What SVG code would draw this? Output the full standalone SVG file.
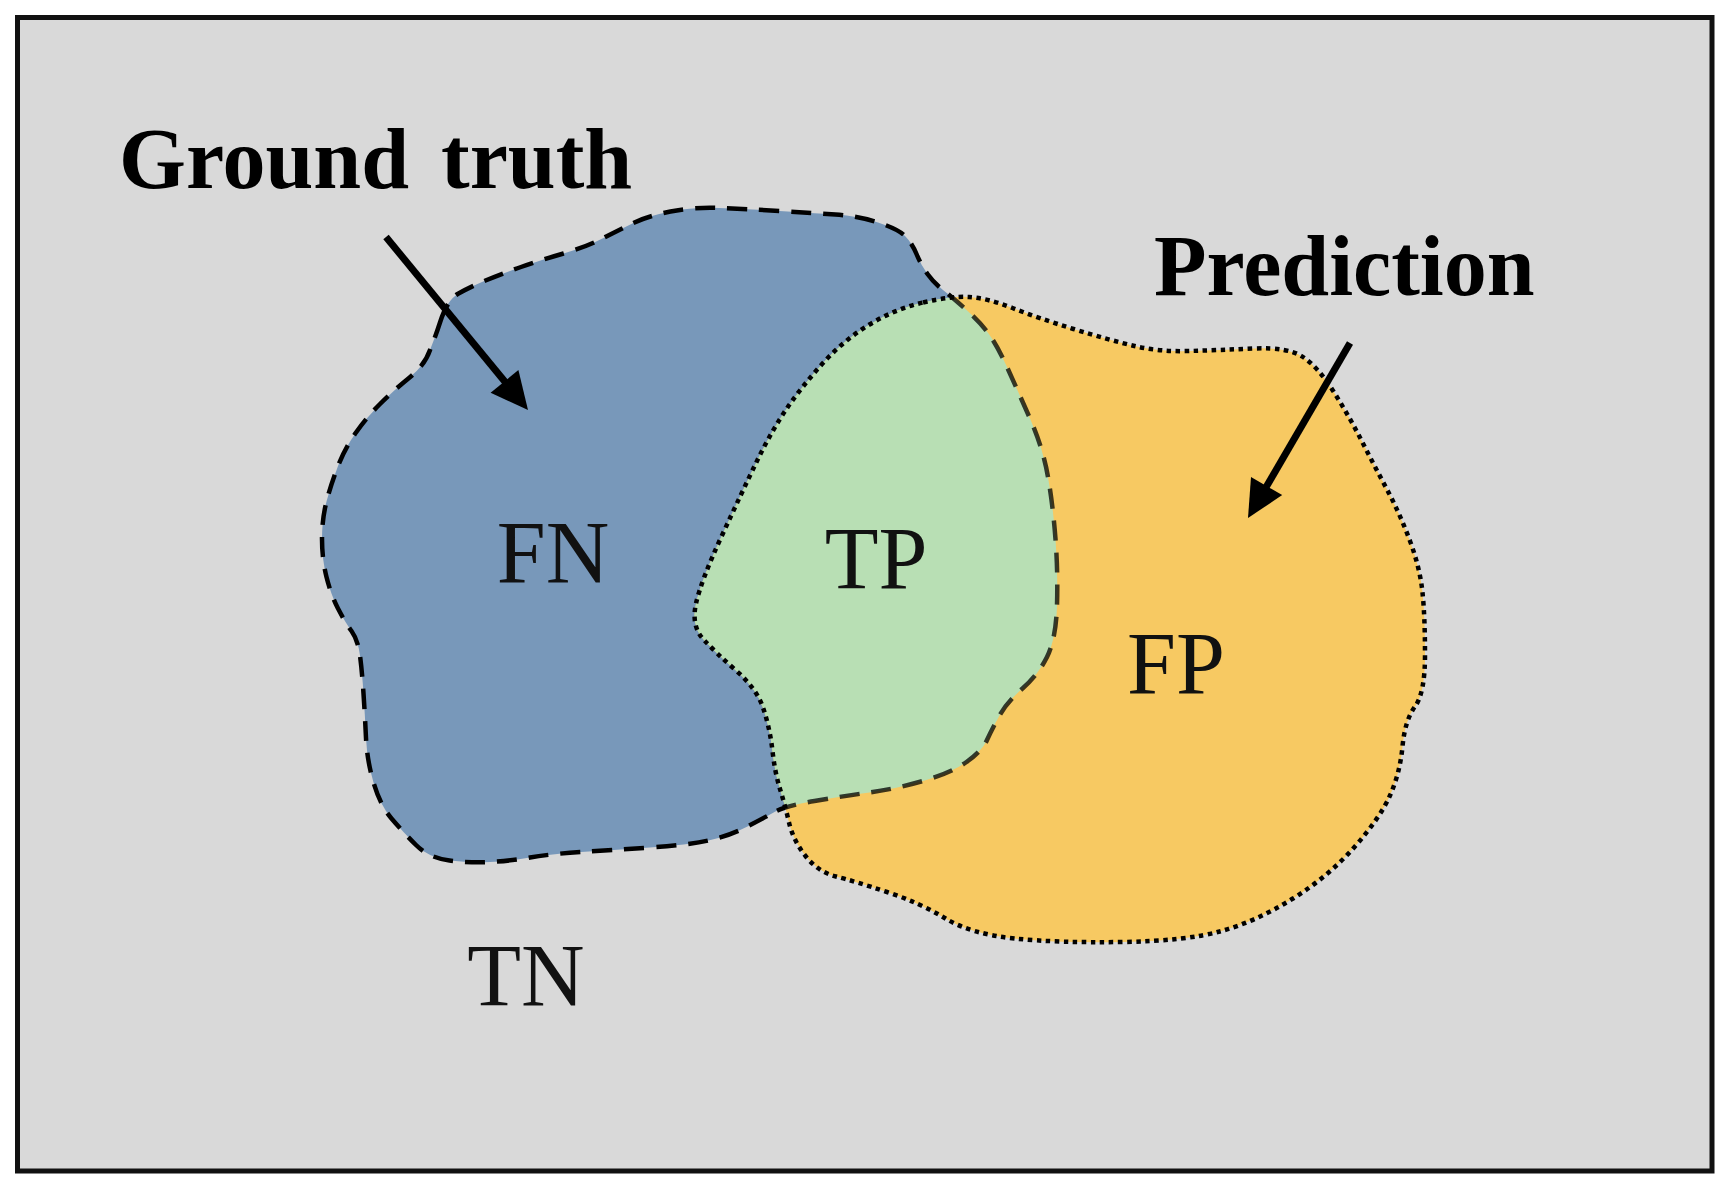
<svg xmlns="http://www.w3.org/2000/svg" width="1735" height="1197" viewBox="0 0 1735 1197">
<style>
.lbl{font-family:"Liberation Serif","Times New Roman",serif;font-size:88px;fill:#111;text-anchor:middle}
.ttl{font-family:"Liberation Serif","Times New Roman",serif;font-size:86px;font-weight:bold;fill:#000}
.gtStroke{fill:none;stroke:#000;stroke-width:4.5;stroke-dasharray:20 12}
.predStroke{fill:none;stroke:#000;stroke-width:4.5;stroke-dasharray:4.5 4.5}
.arrowLine{stroke:#000;stroke-width:7;fill:none}
</style>
<defs>
<path id="gtPath" d="M440,322.5 Q447,300 458.5,293.5 Q470,287 485.5,280.5 Q501,274 521,267 Q541,260 563.5,253.5 Q586,247 603.5,238 Q621,229 634.5,222.5 Q648,216 670.5,211.5 Q693,207 719.5,208 Q746,209 779.5,211 Q813,213 835.5,214.5 Q858,216 878,222.5 Q898,229 905,236 Q912,243 916.5,254 Q921,265 927.5,274 Q934,283 943,290 Q952,297 966,309.5 Q980,322 988.5,333.5 Q997,345 1007,367 Q1017,389 1030,418.5 Q1043,448 1048,477 Q1053,506 1055.5,539 Q1058,572 1057,605.5 Q1056,639 1047,657 Q1038,675 1022.5,688.5 Q1007,702 999.5,715.5 Q992,729 987,740 Q982,751 966.5,762 Q951,773 923,781 Q895,789 869.5,792.5 Q844,796 814.5,801 Q785,806 774.5,812 Q764,818 746.5,827 Q729,836 708.5,840.5 Q688,845 650,847.5 Q612,850 581,852 Q550,854 530,857.5 Q510,861 490,862 Q470,863 449.5,860.5 Q429,858 416,845 Q403,832 391.5,818.5 Q380,805 373.5,782.5 Q367,760 366,738 Q365,716 363.5,693.5 Q362,671 360,655.5 Q358,640 351.5,631 Q345,622 338,608.5 Q331,595 326.5,577 Q322,559 322,539 Q322,519 326.5,501.5 Q331,484 338,466 Q345,448 356,432.5 Q367,417 380,404 Q393,391 409,378 Q425,365 430,350 Q436,335 440,322.5 Z"/>
<path id="predPath" d="M923,302.5 Q951,296 969,297 Q987,298 1012.5,308 Q1038,318 1073.5,329 Q1109,340 1134.5,346 Q1160,352 1190,351 Q1220,350 1254,348.5 Q1288,347 1303,357 Q1318,367 1333.5,391.5 Q1349,416 1361.5,440.5 Q1374,465 1387,489.5 Q1400,514 1410,541 Q1420,568 1422.5,592.5 Q1425,617 1425,655 Q1425,693 1415,706.5 Q1405,720 1402.5,746.5 Q1400,773 1390,795.5 Q1380,818 1354.5,847 Q1329,876 1293,898.5 Q1257,921 1221.5,931 Q1186,941 1122,942 Q1058,943 1014.5,938.5 Q971,934 945.5,918.5 Q920,903 887,892 Q854,881 836,876.5 Q818,872 805.5,856 Q793,840 789,822.5 Q785,805 780,789 Q775,773 772.5,751 Q770,729 763.5,709 Q757,689 736.5,671 Q716,653 703.5,639.5 Q691,626 696,603.5 Q701,581 721.5,536.5 Q742,492 757,461 Q772,430 787.5,407.5 Q803,385 823.5,362.5 Q844,340 869.5,324.5 Q895,309 923,302.5 Z"/>
<clipPath id="gtClip"><use href="#gtPath"/></clipPath>
<clipPath id="predClip"><use href="#predPath"/></clipPath>
<mask id="outsidePred" maskUnits="userSpaceOnUse" x="0" y="0" width="1735" height="1197">
<rect x="0" y="0" width="1735" height="1197" fill="#fff"/>
<use href="#predPath" fill="#000"/>
</mask>
</defs>
<rect x="0" y="0" width="1735" height="1197" fill="#fff"/>
<rect id="frame" x="17.5" y="17.5" width="1694.5" height="1153.5" fill="#D9D9D9" stroke="#111" stroke-width="5"/>
<g id="ground-truth">
<use href="#gtPath" fill="#7898BA"/>
</g>
<g id="prediction">
<use href="#predPath" fill="#F7C962"/>
</g>
<g id="true-positive">
<use href="#predPath" fill="#B8DFB4" clip-path="url(#gtClip)"/>
</g>
<g id="outlines">
<use href="#gtPath" class="gtStroke" mask="url(#outsidePred)"/>
<use href="#gtPath" class="gtStroke" clip-path="url(#predClip)" stroke="#3b3412" stroke-opacity="0.75"/>
<use href="#predPath" class="predStroke"/>
</g>
<g id="connectors">
<line class="arrowLine" x1="386" y1="237" x2="506" y2="383"/>
<polygon points="528,410 490.6,392.8 518.4,370" fill="#000"/>
<line class="arrowLine" x1="1350" y1="343" x2="1265.6" y2="488"/>
<polygon points="1248,518 1282.2,495.1 1251,476.9" fill="#000"/>
</g>
<g id="title-ground-truth">
<text class="ttl" x="119" y="188">Ground</text>
<text class="ttl" x="441" y="188">truth</text>
</g>
<g id="title-prediction">
<text class="ttl" x="1154" y="295">Prediction</text>
</g>
<g id="labels">
<text class="lbl" x="553" y="582">FN</text>
<text class="lbl" x="876" y="588">TP</text>
<text class="lbl" x="1176" y="693">FP</text>
<text class="lbl" x="526" y="1005">TN</text>
</g>
</svg>
